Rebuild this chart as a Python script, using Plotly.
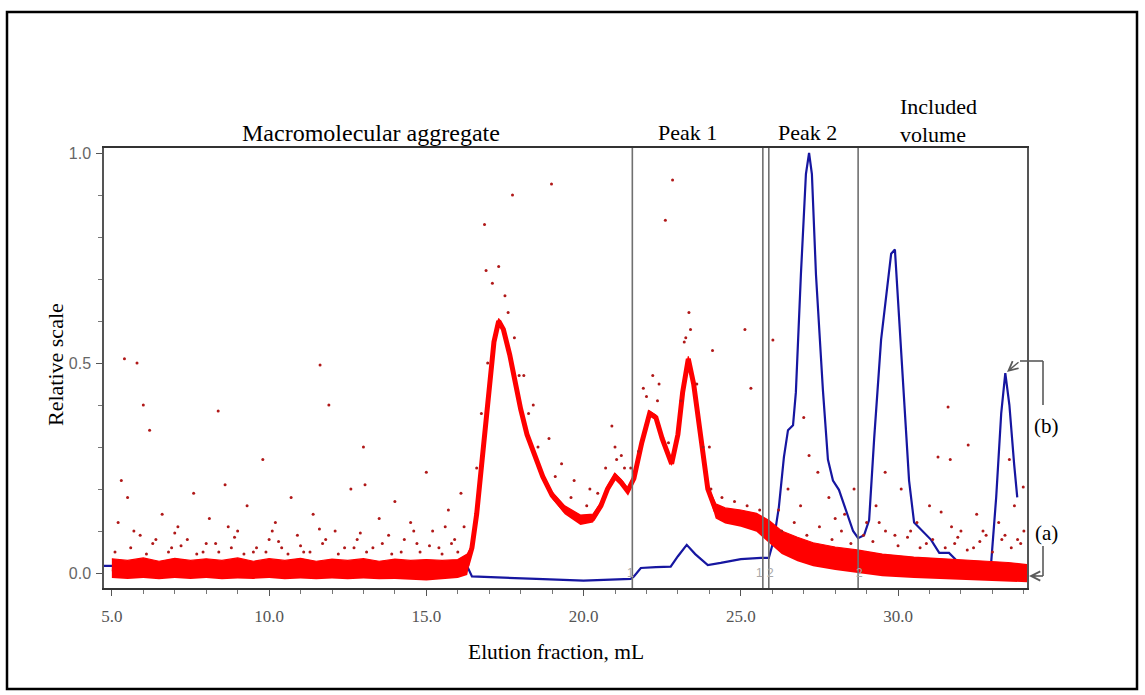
import plotly.graph_objects as go

# ---------------- data ----------------
blue_x = [4.75, 8.0, 12.0, 16.3, 16.45, 17.0, 18.5, 20.0, 21.5, 21.6, 21.82, 22.3, 22.77, 23.0,
          23.28, 23.55, 23.95, 24.36, 25.0, 25.64, 25.89, 26.05, 26.21, 26.37, 26.50, 26.66,
          26.75, 26.91, 27.07, 27.17, 27.26, 27.39, 27.61, 27.77, 27.93, 28.12, 28.34, 28.57,
          28.73, 28.92, 29.08, 29.24, 29.46, 29.78, 29.90, 30.19, 30.35, 30.51, 30.80, 31.05,
          31.31, 31.62, 31.94, 32.3, 32.7, 32.96, 33.12, 33.28, 33.41, 33.54, 33.69, 33.79]
blue_y = [0.017, 0.017, 0.016, 0.016, -0.008, -0.010, -0.014, -0.018, -0.014, -0.008, 0.012, 0.014,
          0.015, 0.040, 0.067, 0.045, 0.019, 0.024, 0.033, 0.036, 0.036, 0.079, 0.157, 0.276, 0.34,
          0.352, 0.43, 0.71, 0.95, 1.0, 0.95, 0.71, 0.436, 0.27, 0.22, 0.198, 0.15, 0.10, 0.083,
          0.09, 0.126, 0.32, 0.555, 0.76, 0.77, 0.42, 0.22, 0.12, 0.098, 0.079, 0.048, 0.048, 0.024,
          0.0, -0.005, 0.024, 0.18, 0.38, 0.476, 0.40, 0.26, 0.18]

red_x = [5.0, 5.5, 6.0, 6.5, 7.0, 7.5, 8.0, 8.5, 9.0, 9.5, 10.0, 10.5, 11.0, 11.5, 12.0, 12.5,
         13.0, 13.5, 14.0, 14.5, 15.0, 15.5, 16.0, 16.3, 16.45, 16.6, 16.8, 17.0, 17.15, 17.3,
         17.45, 17.65, 17.85, 18.0, 18.2, 18.4, 18.7, 19.0, 19.4, 19.9, 20.3, 20.55, 20.76, 21.0,
         21.2, 21.4, 21.6, 21.85, 22.1, 22.3, 22.5, 22.8, 23.0, 23.15, 23.33, 23.5, 23.7, 23.95,
         24.2, 24.5, 25.0, 25.5, 25.9, 26.3, 26.8, 27.3, 28.0, 28.7, 29.5, 30.5, 31.5, 32.5,
         33.5, 34.1]
red_mid = [0.010, 0.008, 0.010, 0.008, 0.009, 0.008, 0.010, 0.008, 0.009, 0.008, 0.009, 0.008,
           0.008, 0.007, 0.008, 0.007, 0.008, 0.007, 0.007, 0.006, 0.006, 0.006, 0.008, 0.02,
           0.06, 0.14, 0.28, 0.44, 0.55, 0.60, 0.58, 0.52, 0.44, 0.39, 0.33, 0.29, 0.23, 0.185,
           0.15, 0.126, 0.13, 0.16, 0.20, 0.23, 0.215, 0.195, 0.225, 0.31, 0.38, 0.37, 0.32, 0.26,
           0.33, 0.43, 0.51, 0.45, 0.33, 0.20, 0.15, 0.138, 0.13, 0.12, 0.10, 0.075, 0.058, 0.045,
           0.035, 0.028, 0.018, 0.012, 0.008, 0.005, 0.002, 0.0]
red_lo = [-0.012, -0.014, -0.012, -0.015, -0.012, -0.014, -0.012, -0.015, -0.013, -0.014, -0.012,
          -0.015, -0.013, -0.015, -0.013, -0.015, -0.013, -0.015, -0.014, -0.016, -0.018, -0.015,
          -0.012, -0.005, 0.054, 0.134, 0.274, 0.434, 0.544, 0.594, 0.574, 0.514, 0.434, 0.384,
          0.324, 0.284, 0.224, 0.177, 0.14, 0.114, 0.12, 0.152, 0.193, 0.223, 0.208, 0.188, 0.218,
          0.304, 0.374, 0.364, 0.314, 0.254, 0.324, 0.424, 0.504, 0.444, 0.324, 0.194, 0.13,
          0.118, 0.11, 0.098, 0.072, 0.045, 0.028, 0.016, 0.007, 0.0, -0.008, -0.012, -0.015,
          -0.018, -0.02, -0.022]
red_hi = [0.034, 0.030, 0.036, 0.028, 0.035, 0.030, 0.034, 0.030, 0.036, 0.028, 0.034, 0.030,
          0.035, 0.028, 0.033, 0.030, 0.034, 0.028, 0.033, 0.030, 0.032, 0.030, 0.032, 0.045,
          0.066, 0.146, 0.286, 0.446, 0.556, 0.606, 0.586, 0.526, 0.446, 0.396, 0.336, 0.296,
          0.236, 0.193, 0.16, 0.138, 0.14, 0.168, 0.207, 0.237, 0.222, 0.202, 0.232, 0.316,
          0.386, 0.376, 0.326, 0.266, 0.336, 0.436, 0.516, 0.456, 0.336, 0.206, 0.165, 0.155,
          0.15, 0.142, 0.125, 0.1, 0.085, 0.072, 0.062, 0.055, 0.045, 0.038, 0.034, 0.03, 0.025,
          0.02]

scatter_x = [5.2, 5.4, 5.8, 6.0, 6.2, 5.3, 5.5, 5.9, 6.3, 6.6, 6.9, 7.1, 7.4, 7.6, 7.9, 8.1, 8.38,
             8.3, 8.6, 8.8, 9.0, 9.3, 9.5, 9.8, 10.0, 10.2, 10.4, 10.7, 10.9, 11.1, 11.4, 11.62,
             11.7, 11.9, 12.1, 12.4, 12.6, 12.8, 13.0, 13.05, 13.3, 13.5, 13.8, 14.0, 14.2, 14.5,
             14.7, 15.0, 15.2, 15.4, 15.7, 15.9, 16.1, 16.2,
             5.1, 5.6, 6.1, 6.4, 6.8, 7.2, 7.7, 8.0, 8.4, 8.9, 9.2, 9.6, 9.9, 10.3, 10.6, 11.0,
             11.3, 11.8, 12.2, 12.7, 13.1, 13.6, 13.9, 14.3, 14.8, 15.1, 15.5, 15.8, 16.0, 5.7,
             7.0, 8.7, 10.1, 11.6, 12.9, 14.6, 15.6,
             16.85, 17.74, 18.98, 16.9, 17.1, 17.3, 17.5, 17.8, 18.1, 18.4, 18.9, 19.3, 19.7,
             20.2, 20.9, 21.0, 21.2, 21.5, 21.9, 22.2, 22.4, 22.6, 22.83, 23.2, 23.35, 23.4, 23.6,
             24.0, 24.1, 25.13, 25.32, 26.02, 27.0, 27.17, 27.45, 26.5, 26.2, 27.8, 28.3, 28.6,
             16.6, 16.75, 16.95, 17.6, 17.95, 18.25, 18.55, 19.1, 19.6, 20.1, 20.45, 20.7, 21.05,
             21.3, 21.75, 22.0, 22.35, 22.7, 23.1, 23.25, 23.8, 24.05, 24.4, 24.8, 25.2, 25.6,
             29.0, 29.3, 29.59, 30.1, 30.6, 31.0, 31.27, 31.37, 31.59, 31.66, 32.0, 32.23, 32.5,
             32.8, 33.2, 33.54, 33.7, 33.98, 29.9, 30.9, 31.8, 32.4, 33.0, 33.8, 34.0,
             26.3, 26.7, 27.1, 27.5, 27.9, 28.2, 28.5, 28.9, 29.2, 29.6, 30.0, 30.3, 30.7, 31.1,
             31.5, 31.9, 32.2, 32.6, 33.3, 33.6, 33.9, 26.9, 28.0, 29.4, 30.4, 31.7, 32.7, 33.4]
scatter_y = [0.12, 0.51, 0.50, 0.40, 0.34, 0.22, 0.18, 0.09, 0.07, 0.14, 0.06, 0.11, 0.08, 0.19,
             0.05, 0.13, 0.386, 0.07, 0.21, 0.06, 0.10, 0.16, 0.05, 0.27, 0.08, 0.12, 0.06, 0.18,
             0.09, 0.05, 0.14, 0.495, 0.07, 0.40, 0.10, 0.06, 0.20, 0.08, 0.30, 0.21, 0.06, 0.13,
             0.09, 0.17, 0.05, 0.12, 0.07, 0.24, 0.10, 0.06, 0.15, 0.08, 0.19, 0.11,
             0.05, 0.06, 0.045, 0.08, 0.05, 0.065, 0.045, 0.07, 0.05, 0.085, 0.045, 0.06, 0.05,
             0.075, 0.045, 0.065, 0.05, 0.08, 0.045, 0.06, 0.05, 0.07, 0.045, 0.08, 0.05, 0.065,
             0.045, 0.07, 0.05, 0.10, 0.095, 0.11, 0.10, 0.105, 0.095, 0.10, 0.11,
             0.83, 0.90, 0.926, 0.72, 0.69, 0.73, 0.66, 0.56, 0.47, 0.40, 0.32, 0.26, 0.22,
             0.20, 0.35, 0.30, 0.28, 0.25, 0.44, 0.47, 0.45, 0.84, 0.936, 0.55, 0.62, 0.58, 0.45,
             0.30, 0.53, 0.58, 0.44, 0.555, 0.37, 0.28, 0.24, 0.20, 0.15, 0.18, 0.14, 0.20,
             0.25, 0.38, 0.50, 0.62, 0.47, 0.38, 0.30, 0.23, 0.18, 0.16, 0.19, 0.25, 0.27,
             0.25, 0.29, 0.42, 0.41, 0.31, 0.41, 0.56, 0.30, 0.20, 0.18, 0.17, 0.16, 0.15,
             0.12, 0.16, 0.24, 0.20, 0.12, 0.16, 0.276, 0.145, 0.395, 0.27, 0.10, 0.305, 0.14,
             0.09, 0.12, 0.27, 0.16, 0.205, 0.09, 0.07, 0.07, 0.06, 0.05, 0.08, 0.10,
             0.10, 0.12, 0.09, 0.11, 0.08, 0.10, 0.07, 0.09, 0.075, 0.10, 0.065, 0.085, 0.06, 0.08,
             0.06, 0.085, 0.055, 0.075, 0.08, 0.06, 0.07, 0.16, 0.13, 0.12, 0.10, 0.11, 0.10, 0.09]

fraction_marks = [21.55, 25.70, 25.89, 28.73]
fraction_labels = ["1", "1", "2", "2"]
region_labels = ["Macromolecular aggregate", "Peak 1", "Peak 2"]

x_ticks = [5, 10, 15, 20, 25, 30]
x_tick_text = ["5.0", "10.0", "15.0", "20.0", "25.0", "30.0"]
y_ticks = [0.0, 0.5, 1.0]
y_tick_text = ["0.0", "0.5", "1.0"]

# ---------------- layout helpers (pixel -> paper) ----------------
W, H = 1145, 695
PL, PR, PT, PB = 104, 1027, 148, 588


def pxx(p):
    return (p - PL) / (PR - PL)


def pxy(p):
    return (PB - p) / (PB - PT)


SERIF = "Liberation Serif"
SANS = "Liberation Sans"
GRAY = "#5a5a5a"

fig = go.Figure()

# blue trace (drawn under the red one)
fig.add_trace(go.Scatter(x=blue_x, y=blue_y, mode="lines",
                         line=dict(color="#1616a0", width=2.2), hoverinfo="skip"))
# red dense band
fig.add_trace(go.Scatter(x=red_x, y=red_lo, mode="lines", line=dict(width=0, color="#ff0000"),
                         hoverinfo="skip"))
fig.add_trace(go.Scatter(x=red_x, y=red_hi, mode="lines", fill="tonexty", fillcolor="#ff0000",
                         line=dict(width=1.2, color="#ff0000"), hoverinfo="skip"))
fig.add_trace(go.Scatter(x=red_x, y=red_mid, mode="lines",
                         line=dict(color="#ff0000", width=5), hoverinfo="skip"))
# scattered red points
fig.add_trace(go.Scatter(x=scatter_x, y=scatter_y, mode="markers",
                         marker=dict(color="#b01818", size=3), hoverinfo="skip"))

# fraction boundary lines and their small labels
for xm in fraction_marks:
    fig.add_shape(type="line", xref="x", yref="paper", x0=xm, x1=xm, y0=0, y1=1,
                  line=dict(color="#707070", width=1.6), layer="above")
lab_pos = [fraction_marks[0] - 0.05, fraction_marks[1] - 0.1, fraction_marks[2] + 0.05,
           fraction_marks[3] + 0.05]
for xl, t in zip(lab_pos, fraction_labels):
    fig.add_annotation(x=xl, y=0.0, xref="x", yref="y", text=t, showarrow=False,
                       xanchor="center", yanchor="middle",
                       font=dict(family=SANS, size=12, color="#a8a8a8"))


def label(xp, yp, text, size=22, xanchor="center", angle=0):
    fig.add_annotation(x=pxx(xp), y=pxy(yp), xref="paper", yref="paper", text=text,
                       showarrow=False, xanchor=xanchor, yanchor="middle", textangle=angle,
                       font=dict(family=SERIF, size=size, color="black"))


# region labels above the plot
label(371, 133, region_labels[0], size=24)
label(687, 133, region_labels[1])
label(807, 133, region_labels[2])
label(898, 107, "Included", xanchor="left")
label(898, 134, "volume", xanchor="left")

# axis titles
label(556, 652, "Elution fraction, mL", size=21.5)
label(55, 365, "Relative scale", size=22, angle=-90)

# (a) / (b) labels and brackets
label(1046, 426, "(b)", size=21)
label(1046, 533, "(a)", size=21)
for (x0, y0, x1, y1) in [(1020, 361, 1043, 361), (1043, 361, 1043, 405),
                         (1043, 546, 1043, 576), (1043, 576, 1034, 576)]:
    fig.add_shape(type="line", xref="paper", yref="paper", x0=pxx(x0), y0=pxy(y0),
                  x1=pxx(x1), y1=pxy(y1), line=dict(color=GRAY, width=1.6))
fig.add_annotation(x=pxx(1007), y=pxy(372), xref="paper", yref="paper", ax=13, ay=-11,
                   text="", showarrow=True, arrowhead=5, arrowsize=1.3, arrowwidth=1.4,
                   arrowcolor=GRAY)
fig.add_annotation(x=pxx(1029), y=pxy(576), xref="paper", yref="paper", ax=8, ay=0,
                   text="", showarrow=True, arrowhead=5, arrowsize=1.3, arrowwidth=1.4,
                   arrowcolor=GRAY)

# outer border
fig.add_shape(type="rect", xref="paper", yref="paper", x0=pxx(7), x1=pxx(1137), y0=pxy(689),
              y1=pxy(12), line=dict(color="black", width=2.5))

fig.update_layout(
    width=W, height=H,
    margin=dict(l=PL, r=W - PR, t=PT, b=H - PB),
    paper_bgcolor="white", plot_bgcolor="white",
    showlegend=False,
    font=dict(family=SERIF),
    xaxis=dict(range=[4.75, 34.1], tickmode="array", tickvals=x_ticks, ticktext=x_tick_text,
               ticks="outside", ticklen=6, tickcolor="#555", showgrid=False, zeroline=False,
               showline=True, linecolor="#333", linewidth=1.5, mirror=True,
               tickfont=dict(family=SERIF, size=17, color="#555"), ticklabelstandoff=6,
               minor=dict(tickmode="array", tickvals=list(range(5, 35)), ticks="outside",
                          ticklen=4, tickcolor="#777")),
    yaxis=dict(range=[-0.0357, 1.0119], tickmode="array", tickvals=y_ticks, ticktext=y_tick_text,
               ticks="outside", ticklen=6, tickcolor="#555", showgrid=False, zeroline=False,
               showline=True, linecolor="#555", linewidth=1.5, mirror=True,
               tickfont=dict(family=SANS, size=16, color="#666"),
               ticklabelstandoff=2,
               minor=dict(tickmode="array", tickvals=[i / 10 for i in range(0, 11)],
                          ticks="outside", ticklen=4, tickcolor="#777")),
)

fig.write_html("out.html")
